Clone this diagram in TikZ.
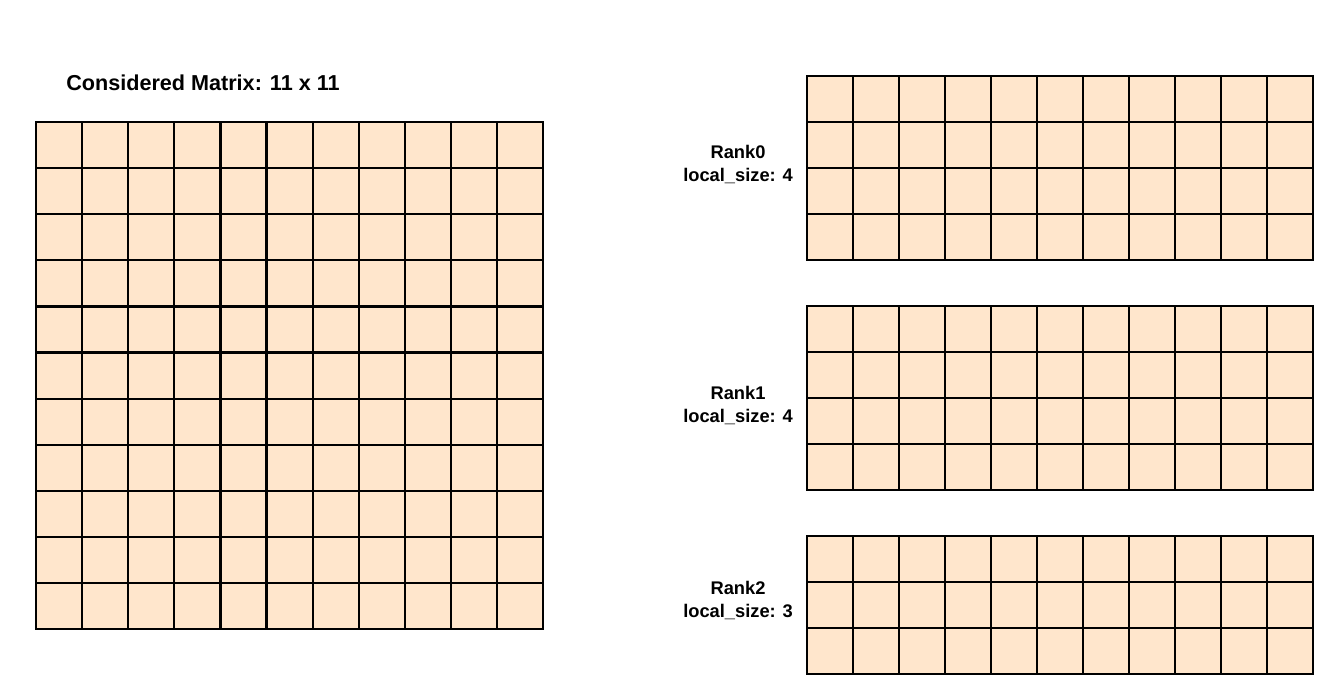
\documentclass[tikz,border=0pt]{standalone}
\usepackage{fontspec}
\setmainfont{Liberation Sans}
\usepackage{tikz}

\definecolor{peach}{HTML}{FFE6CC}

\begin{document}
\begin{tikzpicture}[x=1pt,y=-1pt,
    cell/.style={fill=peach,draw=black,line width=2.2pt},
    ranklabel/.style={font=\bfseries\fontsize{18.3}{23}\selectfont,align=center}]
    \useasboundingbox (0,0) rectangle (1337,689);

    \node[font=\bfseries\fontsize{21.6}{26}\selectfont] (title) at (203,83) {Considered Matrix: 11 x 11};

    % full matrix
    \foreach \r in {0,...,10}
        \foreach \c in {0,...,10}
            \draw[cell] (36+46.1*\c,122+46.1*\r) rectangle ++(46.1,46.1);

    % local blocks
    \foreach \top/\rows in {76/3, 306/3, 536/2}
        \foreach \r in {0,...,\rows}
            \foreach \c in {0,...,10}
                \draw[cell] (807+46*\c,\top+46*\r) rectangle ++(46,46);

    \node[ranklabel] (rank0) at (738,164) {Rank0\\local\_size: 4};
    \node[ranklabel] (rank1) at (738,405) {Rank1\\local\_size: 4};
    \node[ranklabel] (rank2) at (738,600) {Rank2\\local\_size: 3};
\end{tikzpicture}
\end{document}
